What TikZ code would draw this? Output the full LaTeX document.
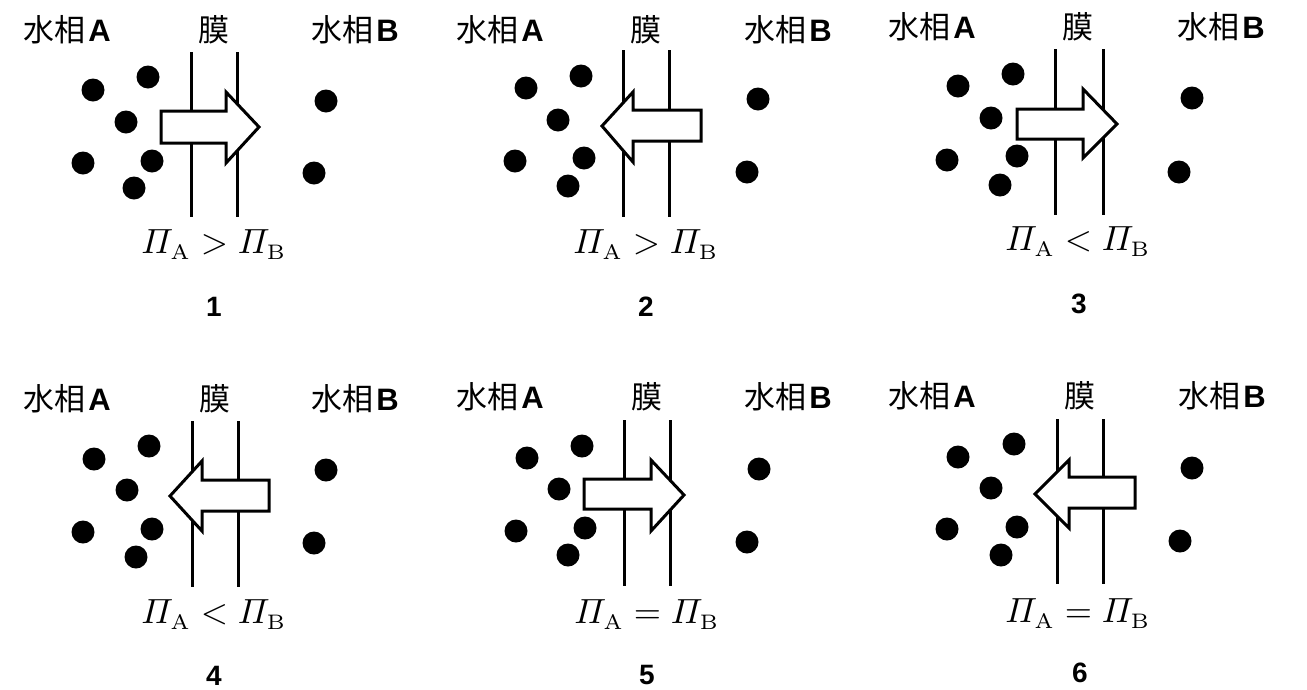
\documentclass[tikz,border=0pt]{standalone}
\usepackage{amsmath}
\usepackage{fontspec}
\newfontfamily\cjk{Noto Sans CJK JP}
\newfontfamily\lsans{Liberation Sans}
\tikzset{
  phase/.style={inner sep=0pt, font=\fontsize{31}{32}\selectfont},
  memlabel/.style={inner sep=0pt, font=\cjk\fontsize{31}{32}\selectfont},
  rel/.style={inner sep=0pt, anchor=base, scale=3.5},
  num/.style={inner sep=0pt, font=\lsans\bfseries\fontsize{28}{29}\selectfont},
  mem/.style={line width=3pt},
  flux/.style={draw, fill=white, line width=3pt, line join=miter, miter limit=10},
  mol/.style={fill=black},
}
\newcommand\phA{{\cjk 水相}\kern3pt{\lsans\bfseries A}}
\newcommand\phB{{\cjk 水相}\kern3pt{\lsans\bfseries B}}
\newcommand\subfont{\fontencoding{OT1}\fontfamily{cmr}\fontseries{m}\fontshape{n}\fontsize{6}{7}\selectfont}
\newcommand\sA{_{\raisebox{-0.4pt}{\subfont A}}}
\newcommand\sB{_{\raisebox{-0.4pt}{\subfont B}}}
\newcommand\molr{11.5}
\begin{document}
\begin{tikzpicture}[x=1pt,y=-1pt]
\useasboundingbox (0,0) rectangle (1307,689);
\fill[white] (0,0) rectangle (1307,689);

% ---------- Panel 1 ----------
\node[phase] (p1a) at (67,30) {\phA};
\node[memlabel] (p1m) at (214,30) {膜};
\node[phase] (p1b) at (355,30) {\phB};
\draw[mem] (191,52) -- (191,217);
\draw[mem] (237,52) -- (237,217);
\path[flux] (161,111) -- (226,111) -- (226,92) -- (259,127) -- (226,163) -- (226,143) -- (161,143) -- cycle;
\foreach \x/\y in {93/90,148/77,126/122,83/163,152/161,134/188,326/101,314/173}
  \fill[mol] (\x,\y) circle (\molr);
\node[rel] (p1r) at (214,253) {$\varPi\sA > \varPi\sB$};
\node[num] (p1n) at (214,307) {1};

% ---------- Panel 2 ----------
\node[phase] (p2a) at (500,30) {\phA};
\node[memlabel] (p2m) at (646,30) {膜};
\node[phase] (p2b) at (788,30) {\phB};
\draw[mem] (623,50) -- (623,217);
\draw[mem] (669,50) -- (669,217);
\path[flux] (701,110) -- (633,110) -- (633,92) -- (602,126) -- (633,162) -- (633,141) -- (701,141) -- cycle;
\foreach \x/\y in {526/88,581/76,558/120,515/161,584/158,568/186,758/99,747/172}
  \fill[mol] (\x,\y) circle (\molr);
\node[rel] (p2r) at (646,253) {$\varPi\sA > \varPi\sB$};
\node[num] (p2n) at (646,307) {2};

% ---------- Panel 3 ----------
\node[phase] (p3a) at (932,27) {\phA};
\node[memlabel] (p3m) at (1078,27) {膜};
\node[phase] (p3b) at (1221,27) {\phB};
\draw[mem] (1055,49) -- (1055,215);
\draw[mem] (1103,49) -- (1103,215);
\path[flux] (1017,109) -- (1083,109) -- (1083,89) -- (1117,124) -- (1083,158) -- (1083,139) -- (1017,139) -- cycle;
\foreach \x/\y in {958/86,1013/74,991/118,947/160,1017/156,1000/185,1192/98,1179/172}
  \fill[mol] (\x,\y) circle (\molr);
\node[rel] (p3r) at (1078,250) {$\varPi\sA < \varPi\sB$};
\node[num] (p3n) at (1079,304) {3};

% ---------- Panel 4 ----------
\node[phase] (p4a) at (67,399) {\phA};
\node[memlabel] (p4m) at (215,399) {膜};
\node[phase] (p4b) at (355,399) {\phB};
\draw[mem] (192,421) -- (192,587);
\draw[mem] (238,421) -- (238,587);
\path[flux] (269,480) -- (202,480) -- (202,461) -- (170,496) -- (202,531) -- (202,511) -- (269,511) -- cycle;
\foreach \x/\y in {94/459,149/446,127/490,83/532,152/529,136/557,326/470,314/543}
  \fill[mol] (\x,\y) circle (\molr);
\node[rel] (p4r) at (214,623) {$\varPi\sA < \varPi\sB$};
\node[num] (p4n) at (214,676) {4};

% ---------- Panel 5 ----------
\node[phase] (p5a) at (500,397) {\phA};
\node[memlabel] (p5m) at (647,397) {膜};
\node[phase] (p5b) at (788,397) {\phB};
\draw[mem] (624,420) -- (624,586);
\draw[mem] (670,420) -- (670,586);
\path[flux] (584,479) -- (651,479) -- (651,460) -- (684,495) -- (651,531) -- (651,509) -- (584,509) -- cycle;
\foreach \x/\y in {527/458,582/446,559/489,516/531,585/528,568/555,759/469,747/542}
  \fill[mol] (\x,\y) circle (\molr);
\node[rel] (p5r) at (647,623) {$\varPi\sA = \varPi\sB$};
\node[num] (p5n) at (647,675) {5};

% ---------- Panel 6 ----------
\node[phase] (p6a) at (932,396) {\phA};
\node[memlabel] (p6m) at (1080,396) {膜};
\node[phase] (p6b) at (1222,396) {\phB};
\draw[mem] (1057,419) -- (1057,584);
\draw[mem] (1103,419) -- (1103,584);
\path[flux] (1135,477) -- (1069,477) -- (1069,460) -- (1035,494) -- (1069,528) -- (1069,508) -- (1135,508) -- cycle;
\foreach \x/\y in {958/457,1014/444,991/488,947/529,1017/527,1001/555,1192/468,1180/541}
  \fill[mol] (\x,\y) circle (\molr);
\node[rel] (p6r) at (1078,622) {$\varPi\sA = \varPi\sB$};
\node[num] (p6n) at (1080,673) {6};
\end{tikzpicture}
\end{document}
